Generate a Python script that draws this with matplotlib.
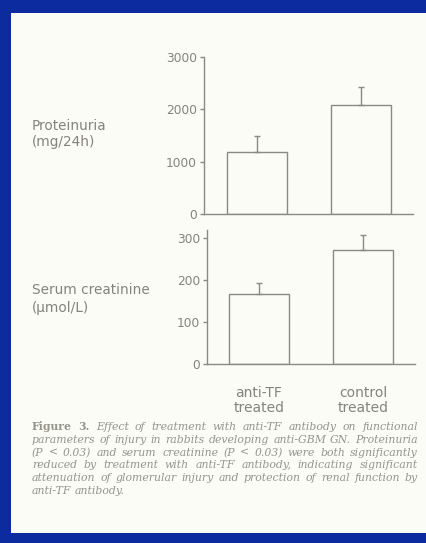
import matplotlib
matplotlib.use("Agg")
import matplotlib.pyplot as plt
from matplotlib.patches import Rectangle

# Data
groups = ["anti-TF\ntreated", "control\ntreated"]
proteinuria = [1190, 2080]
proteinuria_err = [300, 350]
creatinine = [167, 271]
creatinine_err = [26, 36]
prot_ticks = [0, 1000, 2000, 3000]
creat_ticks = [0, 100, 200, 300]

caption_lines = [
    "Figure 3. Effect of treatment with anti-TF antibody on functional",
    "parameters of injury in rabbits developing anti-GBM GN. Proteinuria",
    "(P < 0.03) and serum creatinine (P < 0.03) were both significantly",
    "reduced by treatment with anti-TF antibody, indicating significant",
    "attenuation of glomerular injury and protection of renal function by",
    "anti-TF antibody.",
]

W, H = 427, 543
plt.rcParams["font.family"] = ["DejaVu Sans"]
fig = plt.figure(figsize=(W / 100, H / 100), dpi=100)
fig.patch.set_facecolor("#0b2b9e")

# white page
fig.add_artist(Rectangle((11 / W, 1 - 533 / H), 1 - 11 / W, (533 - 13) / H,
                         transform=fig.transFigure, facecolor="#fbfcf6",
                         edgecolor="none", zorder=0))

ink = "#84847a"
line_c = "#8a8a80"


def style(ax, ticks):
    ax.set_facecolor("none")
    for s in ("top", "right"):
        ax.spines[s].set_visible(False)
    for s in ("left", "bottom"):
        ax.spines[s].set_color(line_c)
        ax.spines[s].set_linewidth(1.0)
    ax.set_yticks(ticks)
    ax.tick_params(axis="y", colors=line_c, labelcolor=ink, labelsize=8.8,
                   length=3, width=1, pad=2)
    ax.tick_params(axis="x", length=0, labelbottom=False)


x = [0, 1]

# Proteinuria panel
ax1 = fig.add_axes([204 / W, 1 - 214 / H, (413 - 204) / W, (214 - 57) / H])
ax1.bar(x, proteinuria, width=0.58, facecolor="none", edgecolor=line_c, linewidth=1.0)
ax1.errorbar(x, proteinuria, yerr=[[0, 0], proteinuria_err], fmt="none",
             ecolor=line_c, elinewidth=1.0, capsize=2)
ax1.set_xlim(-0.513, 1.507)
ax1.set_ylim(0, 3000)
style(ax1, prot_ticks)

# Serum creatinine panel
ax2 = fig.add_axes([207 / W, 1 - 364 / H, (415 - 207) / W, (364 - 229.6) / H])
ax2.bar(x, creatinine, width=0.577, facecolor="none", edgecolor=line_c, linewidth=1.0)
ax2.errorbar(x, creatinine, yerr=[[0, 0], creatinine_err], fmt="none",
             ecolor=line_c, elinewidth=1.0, capsize=2)
ax2.set_xlim(-0.5, 1.5)
ax2.set_ylim(0, 320)
style(ax2, creat_ticks)

# group labels under the lower panel
for xi, g in zip(x, groups):
    ax2.annotate(g, xy=(xi, 0), xycoords="data", xytext=(0, -16),
                 textcoords="offset points", ha="center", va="top",
                 fontsize=10, color=ink, linespacing=1.05)

# panel labels
fig.text(32 / W, 1 - 134 / H, "Proteinuria\n(mg/24h)", fontsize=9.8, color=ink,
         ha="left", va="center", linespacing=1.1)
fig.text(32 / W, 1 - 299 / H, "Serum creatinine\n(\u00b5mol/L)", fontsize=9.8,
         color=ink, ha="left", va="center", linespacing=1.3)

# caption, justified word by word between the margins
cap_color = "#95958a"
cap_left, cap_right = 32, 418
cap_size = 7.8
y0, dy = 427, 12.8
fig.canvas.draw()
renderer = fig.canvas.get_renderer()


def word_artist(word, xpix, ypix, bold):
    return fig.text(xpix / W, 1 - ypix / H, word, fontsize=cap_size,
                    color=cap_color, ha="left", va="center",
                    family=["DejaVu Serif"],
                    style="normal" if bold else "italic",
                    fontweight="bold" if bold else "normal")


for i, line in enumerate(caption_lines):
    ypix = y0 + i * dy
    words = line.split(" ")
    bold_n = 2 if line.startswith("Figure") else 0
    arts = [word_artist(w, 0, ypix, j < bold_n) for j, w in enumerate(words)]
    widths = [a.get_window_extent(renderer).width for a in arts]
    space = 3.5
    if i < len(caption_lines) - 1 and len(words) > 1:
        space = (cap_right - cap_left - sum(widths)) / (len(words) - 1)
    xp = cap_left
    for a, wdt in zip(arts, widths):
        a.set_x(xp / W)
        xp += wdt + space

fig.savefig("out.png", dpi=100, facecolor=fig.get_facecolor())
